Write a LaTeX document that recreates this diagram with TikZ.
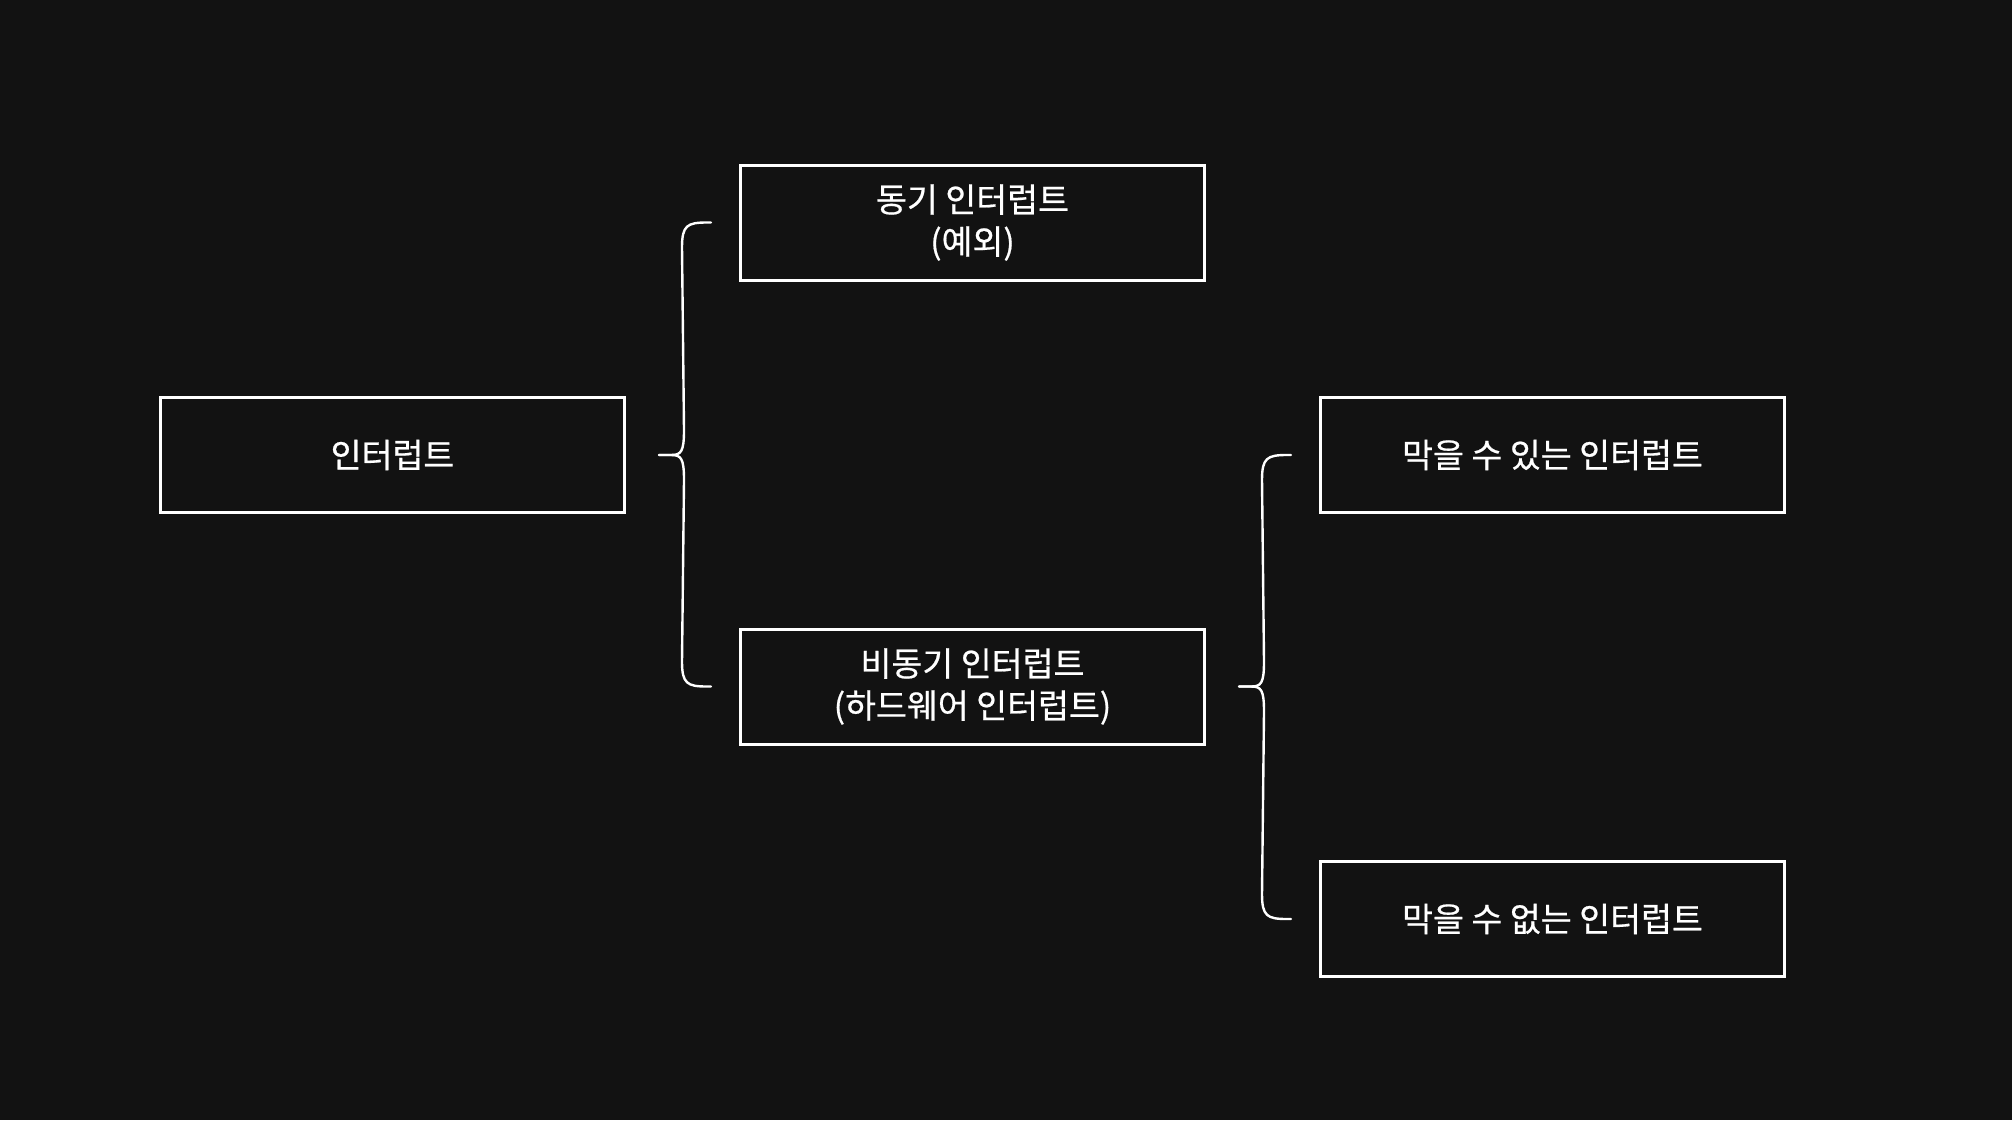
\documentclass[tikz,border=0pt]{standalone}
\usepackage{fontspec}
\setmainfont{Noto Sans CJK KR}[FakeBold=0.6]
\usetikzlibrary{calc}
\definecolor{bg}{HTML}{121212}
\begin{document}
\begin{tikzpicture}[x=0.5pt,y=-0.5pt,
  box/.style={draw=white,line width=1.5pt,fill=bg,text=white,minimum width=232pt,minimum height=57.5pt,inner sep=0pt,align=center,font=\fontsize{16.8pt}{21pt}\selectfont},
  bracel/.style={draw=white,line width=1.2pt,line cap=round}]
\fill[bg] (0,0) rectangle (2012,1120);
\useasboundingbox (0,0) rectangle (2012,1120);
\node[box] (A) at (392.5,455) {인터럽트};
\node[box] (B) at (972.5,222.5) {동기 인터럽트\\(예외)};
\node[box] (C) at (972.5,686.5) {비동기 인터럽트\\(하드웨어 인터럽트)};
\node[box] (D) at (1552.5,455) {막을 수 있는 인터럽트};
\node[box] (E) at (1552.5,919) {막을 수 없는 인터럽트};
% brace 1
\coordinate (t1) at ($(A.east)+(33,0)$);
\coordinate (u1) at ($(B.west)+(-28,0)$);
\coordinate (l1) at ($(C.west)+(-28,0)$);
\draw[bracel] (t1) -- ++(12,0) .. controls ++(10,0) and ++(0,22) .. ($(t1)+(25,-25)$)
  -- ($(u1)+(-29,25)$) .. controls ++(0,-22) and ++(-20,0) .. ($(u1)+(-4,0)$) -- (u1);
\draw[bracel] (t1) -- ++(12,0) .. controls ++(10,0) and ++(0,-22) .. ($(t1)+(25,25)$)
  -- ($(l1)+(-29,-25)$) .. controls ++(0,22) and ++(-20,0) .. ($(l1)+(-4,0)$) -- (l1);
% brace 2
\coordinate (t2) at ($(C.east)+(33,0)$);
\coordinate (u2) at ($(D.west)+(-28,0)$);
\coordinate (l2) at ($(E.west)+(-28,0)$);
\draw[bracel] (t2) -- ++(12,0) .. controls ++(10,0) and ++(0,22) .. ($(t2)+(25,-25)$)
  -- ($(u2)+(-29,25)$) .. controls ++(0,-22) and ++(-20,0) .. ($(u2)+(-4,0)$) -- (u2);
\draw[bracel] (t2) -- ++(12,0) .. controls ++(10,0) and ++(0,-22) .. ($(t2)+(25,25)$)
  -- ($(l2)+(-29,-25)$) .. controls ++(0,22) and ++(-20,0) .. ($(l2)+(-4,0)$) -- (l2);
\end{tikzpicture}
\end{document}
